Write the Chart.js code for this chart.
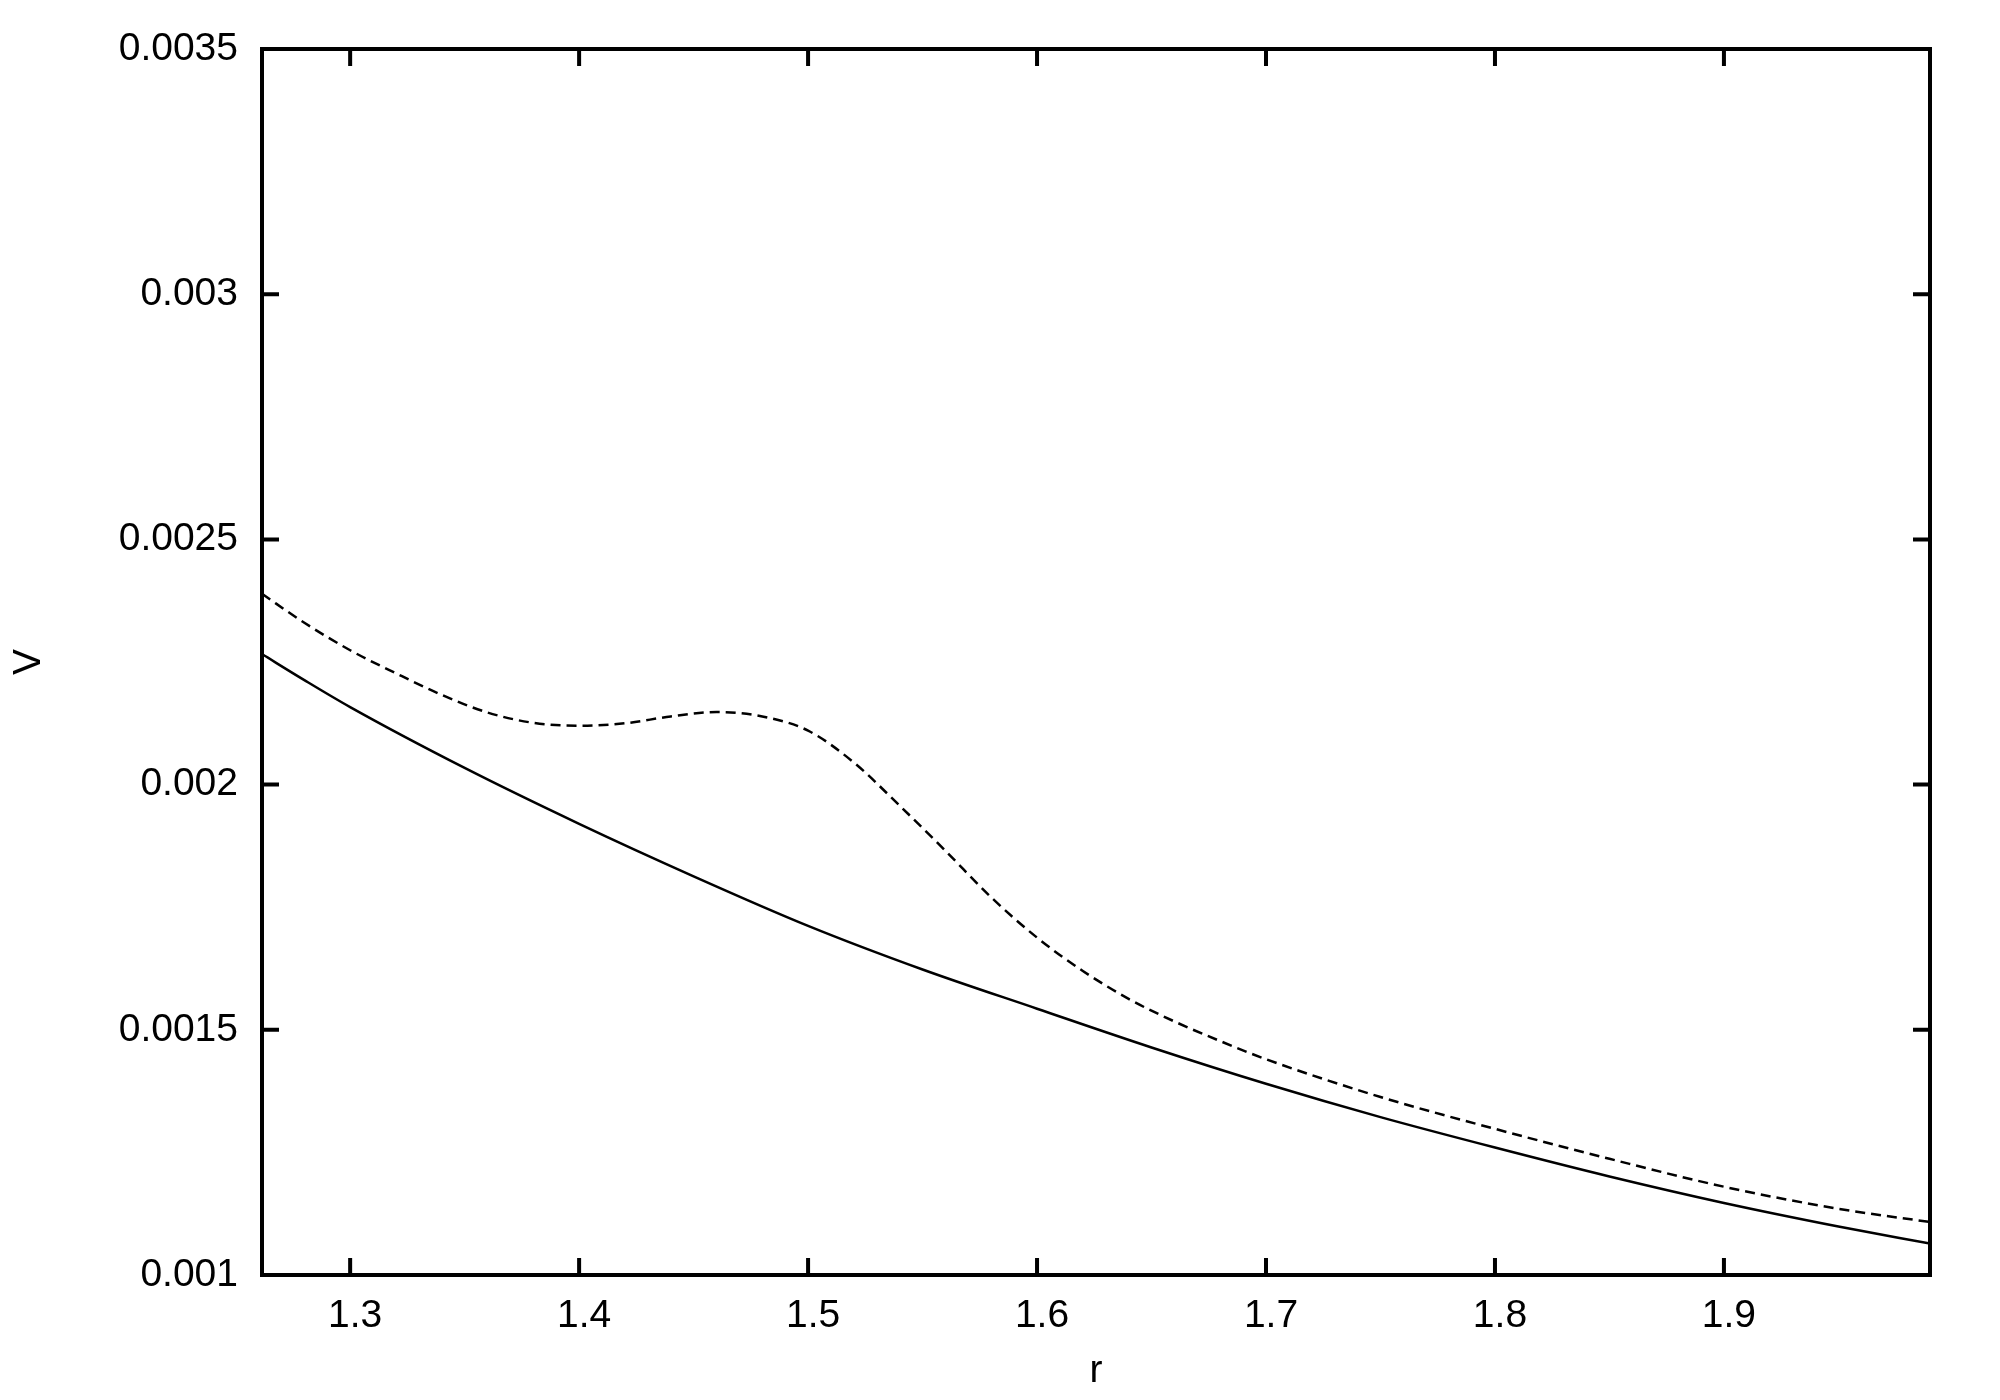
<!DOCTYPE html>
<html>
<head>
<meta charset="utf-8">
<script src="https://cdn.jsdelivr.net/npm/chart.js@4.4.1/dist/chart.umd.min.js"></script>
<style>
  html, body { margin: 0; padding: 0; background: #fff; }
</style>
</head>
<body>
<canvas id="myChart" width="2000" height="1400"></canvas>
<script>
// solid curve
const rSolid = [1.2615, 1.28, 1.30, 1.35, 1.40, 1.45, 1.50, 1.55, 1.60, 1.65, 1.70, 1.75, 1.80, 1.85, 1.90, 1.95, 1.99];
const vSolid = [0.002266, 0.002213, 0.002158, 0.002034, 0.00192, 0.001813, 0.001712, 0.001623, 0.001543, 0.001464, 0.00139, 0.001322, 0.00126, 0.001201, 0.001147, 0.001099, 0.001064];

// dashed curve
const rDashed = [1.2615, 1.28, 1.30, 1.32, 1.34, 1.36, 1.38, 1.40, 1.42, 1.44, 1.46, 1.48, 1.50, 1.52, 1.54, 1.56, 1.58, 1.60, 1.62, 1.64, 1.66, 1.68, 1.70, 1.75, 1.80, 1.85, 1.90, 1.95, 1.99];
const vDashed = [0.002389, 0.00233, 0.002274, 0.002227, 0.002183, 0.002147, 0.002126, 0.00212, 0.002125, 0.002139, 0.002148, 0.002139, 0.00211, 0.002045, 0.001957, 0.001865, 0.00177, 0.001688, 0.00162, 0.001563, 0.001517, 0.001477, 0.00144, 0.001363, 0.001298, 0.001237, 0.00118, 0.001135, 0.001108];

const xTicks = [1.3, 1.4, 1.5, 1.6, 1.7, 1.8, 1.9];
const xTickLabels = ["1.3", "1.4", "1.5", "1.6", "1.7", "1.8", "1.9"];
const yTicks = [0.001, 0.0015, 0.002, 0.0025, 0.003, 0.0035];
const yTickLabels = ["0.001", "0.0015", "0.002", "0.0025", "0.003", "0.0035"];

const toPoints = (xs, ys) => xs.map((x, i) => ({ x: x, y: ys[i] }));
const font = { family: "'Liberation Sans', Arial, sans-serif", size: 39 };

// gnuplot style box with inward ticks on all sides
const framePlugin = {
  id: "frame",
  afterDraw(chart) {
    const { ctx, chartArea: a, scales } = chart;
    const len = 17;
    ctx.save();
    ctx.strokeStyle = "black";
    ctx.lineWidth = 4;
    ctx.strokeRect(a.left, a.top, a.right - a.left, a.bottom - a.top);
    ctx.beginPath();
    xTicks.forEach((v) => {
      const px = scales.x.getPixelForValue(v);
      ctx.moveTo(px, a.bottom);
      ctx.lineTo(px, a.bottom - len);
      ctx.moveTo(px, a.top);
      ctx.lineTo(px, a.top + len);
    });
    yTicks.forEach((v) => {
      const py = scales.y.getPixelForValue(v);
      ctx.moveTo(a.left, py);
      ctx.lineTo(a.left + len, py);
      ctx.moveTo(a.right, py);
      ctx.lineTo(a.right - len, py);
    });
    ctx.stroke();
    ctx.restore();
  },
};

const ctx = document.getElementById("myChart").getContext("2d");
const myChart = new Chart(ctx, {
  type: "scatter",
  data: {
    datasets: [
      {
        data: toPoints(rSolid, vSolid),
        showLine: true,
        borderColor: "black",
        borderWidth: 2.5,
        pointRadius: 0,
        cubicInterpolationMode: "monotone",
      },
      {
        data: toPoints(rDashed, vDashed),
        showLine: true,
        borderColor: "black",
        borderWidth: 2.5,
        borderDash: [10, 6],
        pointRadius: 0,
        cubicInterpolationMode: "monotone",
      },
    ],
  },
  options: {
    responsive: false,
    animation: false,
    events: [],
    layout: { padding: { top: 49, right: 70, left: 0, bottom: 0 } },
    plugins: { legend: { display: false }, tooltip: { enabled: false } },
    scales: {
      x: {
        type: "linear",
        min: 1.2615,
        max: 1.99,
        afterBuildTicks: (scale) => {
          scale.ticks = xTicks.map((v) => ({ value: v }));
        },
        afterFit: (scale) => {
          scale.height = 125;
        },
        ticks: {
          color: "black",
          font: font,
          padding: 18,
          labelOffset: 5,
          autoSkip: false,
          maxRotation: 0,
          callback: (value) => xTickLabels[xTicks.indexOf(value)],
        },
        grid: { display: false, drawTicks: false },
        border: { display: false },
        title: { display: true, text: "r", color: "black", font: font, padding: { top: 0, bottom: 5 } },
      },
      y: {
        type: "linear",
        min: 0.001,
        max: 0.0035,
        afterBuildTicks: (scale) => {
          scale.ticks = yTicks.map((v) => ({ value: v }));
        },
        afterFit: (scale) => {
          scale.width = 262;
        },
        ticks: {
          color: "black",
          font: font,
          padding: 24,
          autoSkip: false,
          callback: (value) => yTickLabels[yTicks.indexOf(value)],
        },
        grid: { display: false, drawTicks: false },
        border: { display: false },
        title: { display: true, text: "V", color: "black", font: font, padding: { top: 6, bottom: 0 } },
      },
    },
  },
  plugins: [framePlugin],
});
</script>
</body>
</html>
